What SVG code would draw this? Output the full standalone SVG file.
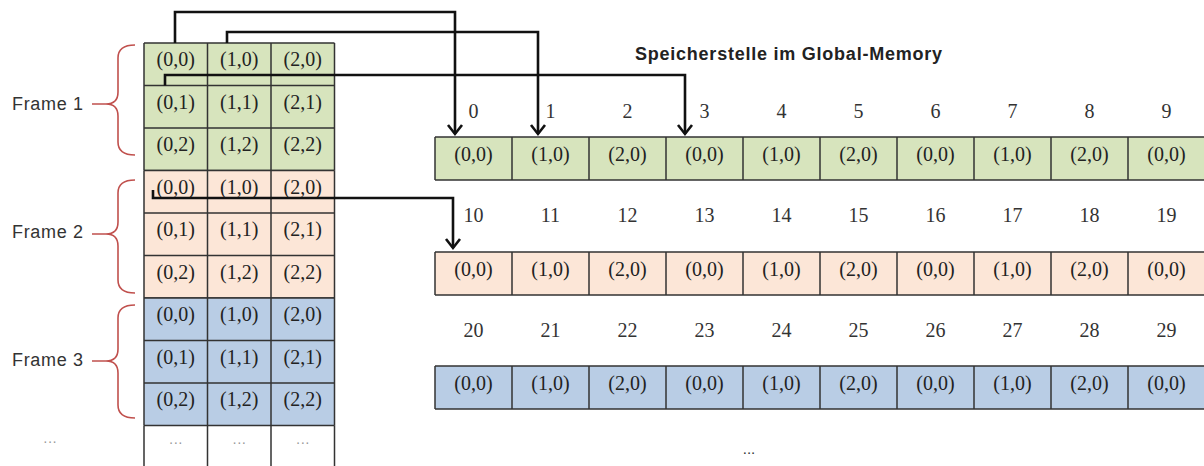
<svg xmlns="http://www.w3.org/2000/svg" width="1204" height="466" viewBox="0 0 1204 466">
<style>
.g{fill:#d7e4bd}
.p{fill:#fce6d7}
.b{fill:#b9cde5}
.w{fill:#ffffff}
.ln{stroke:#333333;stroke-width:1.5;fill:none}
.ct{font-family:"Liberation Serif",serif;font-size:20px;fill:#222;text-anchor:middle}
.num{font-family:"Liberation Serif",serif;font-size:20px;fill:#333;text-anchor:middle}
.fr{font-family:"Liberation Sans",sans-serif;font-size:18px;fill:#333}
.dots{font-family:"Liberation Sans",sans-serif;font-size:14px;fill:#999;text-anchor:middle}
.br{stroke:#c0504d;stroke-width:1.6;fill:none}
.ar{stroke:#111;stroke-width:2.6;fill:none;marker-end:url(#ah)}
</style>
<defs>
<marker id="ah" markerUnits="userSpaceOnUse" markerWidth="20" markerHeight="20" refX="10" refY="10" orient="auto">
<path d="M1,3 L10,10 L1,17" fill="none" stroke="#111" stroke-width="2.6"/>
</marker>
</defs>
<rect width="1204" height="466" fill="#ffffff"/>

<!-- Frame 1 -->
<g id="frame1">
<rect class="g" x="144" y="43" width="190.5" height="127.5"/>
<path class="ln" d="M144,43H334.5M144,85.5H334.5M144,128H334.5M144,170.5H334.5M144,43V170.5M207.5,43V170.5M271,43V170.5M334.5,43V170.5"/>
<text class="ct" x="175.75" y="66">(0,0)</text><text class="ct" x="239.25" y="66">(1,0)</text><text class="ct" x="302.75" y="66">(2,0)</text>
<text class="ct" x="175.75" y="108.5">(0,1)</text><text class="ct" x="239.25" y="108.5">(1,1)</text><text class="ct" x="302.75" y="108.5">(2,1)</text>
<text class="ct" x="175.75" y="151">(0,2)</text><text class="ct" x="239.25" y="151">(1,2)</text><text class="ct" x="302.75" y="151">(2,2)</text>
<path class="br" d="M135,45 Q118,45 118,58 L118,92 Q118,104 106,104 L92,104 M106,104 Q118,104 118,116 L118,142 Q118,155 135,155"/>
<text class="fr" x="12" y="110" textLength="71" lengthAdjust="spacing">Frame 1</text>
</g>

<!-- Frame 2 -->
<g id="frame2">
<rect class="p" x="144" y="170.5" width="190.5" height="127.5"/>
<path class="ln" d="M144,170.5H334.5M144,213H334.5M144,255.5H334.5M144,298H334.5M144,170.5V298M207.5,170.5V298M271,170.5V298M334.5,170.5V298"/>
<text class="ct" x="175.75" y="193.5">(0,0)</text><text class="ct" x="239.25" y="193.5">(1,0)</text><text class="ct" x="302.75" y="193.5">(2,0)</text>
<text class="ct" x="175.75" y="236">(0,1)</text><text class="ct" x="239.25" y="236">(1,1)</text><text class="ct" x="302.75" y="236">(2,1)</text>
<text class="ct" x="175.75" y="278.5">(0,2)</text><text class="ct" x="239.25" y="278.5">(1,2)</text><text class="ct" x="302.75" y="278.5">(2,2)</text>
<path class="br" d="M135,180 Q118,180 118,193 L118,222 Q118,234 106,234 L92,234 M106,234 Q118,234 118,246 L118,280 Q118,293 135,293"/>
<text class="fr" x="12" y="238" textLength="71" lengthAdjust="spacing">Frame 2</text>
</g>

<!-- Frame 3 -->
<g id="frame3">
<rect class="b" x="144" y="298" width="190.5" height="127.5"/>
<path class="ln" d="M144,298H334.5M144,340.5H334.5M144,383H334.5M144,425.5H334.5M144,298V425.5M207.5,298V425.5M271,298V425.5M334.5,298V425.5"/>
<text class="ct" x="175.75" y="321">(0,0)</text><text class="ct" x="239.25" y="321">(1,0)</text><text class="ct" x="302.75" y="321">(2,0)</text>
<text class="ct" x="175.75" y="363.5">(0,1)</text><text class="ct" x="239.25" y="363.5">(1,1)</text><text class="ct" x="302.75" y="363.5">(2,1)</text>
<text class="ct" x="175.75" y="406">(0,2)</text><text class="ct" x="239.25" y="406">(1,2)</text><text class="ct" x="302.75" y="406">(2,2)</text>
<path class="br" d="M135,305 Q118,305 118,318 L118,349 Q118,361 106,361 L92,361 M106,361 Q118,361 118,373 L118,405 Q118,418 135,418"/>
<text class="fr" x="12" y="366" textLength="71" lengthAdjust="spacing">Frame 3</text>
</g>

<!-- continuation row -->
<g id="more">
<path class="ln" d="M144,425.5V468M207.5,425.5V468M271,425.5V468M334.5,425.5V468"/>
<text class="dots" x="175.75" y="447">···</text><text class="dots" x="239.25" y="447">···</text><text class="dots" x="302.75" y="447">···</text>
<text class="dots" x="50" y="446">···</text>
</g>

<text x="635" y="60" font-family="Liberation Sans,sans-serif" font-weight="bold" font-size="18" fill="#222" textLength="307" lengthAdjust="spacing">Speicherstelle im Global-Memory</text>

<!-- Memory row 1 -->
<g id="mem1">
<rect class="g" x="435" y="137" width="770" height="43"/>
<path class="ln" d="M435,137H1205M435,180H1205M435,137V180M512,137V180M589,137V180M666,137V180M743,137V180M820,137V180M897,137V180M974,137V180M1051,137V180M1128,137V180"/>
<text class="num" x="473.5" y="118">0</text><text class="num" x="550.5" y="118">1</text><text class="num" x="627.5" y="118">2</text><text class="num" x="704.5" y="118">3</text><text class="num" x="781.5" y="118">4</text><text class="num" x="858.5" y="118">5</text><text class="num" x="935.5" y="118">6</text><text class="num" x="1012.5" y="118">7</text><text class="num" x="1089.5" y="118">8</text><text class="num" x="1166.5" y="118">9</text>
<text class="ct" x="473.5" y="161">(0,0)</text><text class="ct" x="550.5" y="161">(1,0)</text><text class="ct" x="627.5" y="161">(2,0)</text><text class="ct" x="704.5" y="161">(0,0)</text><text class="ct" x="781.5" y="161">(1,0)</text><text class="ct" x="858.5" y="161">(2,0)</text><text class="ct" x="935.5" y="161">(0,0)</text><text class="ct" x="1012.5" y="161">(1,0)</text><text class="ct" x="1089.5" y="161">(2,0)</text><text class="ct" x="1166.5" y="161">(0,0)</text>
</g>

<!-- Memory row 2 -->
<g id="mem2">
<rect class="p" x="435" y="252" width="770" height="43"/>
<path class="ln" d="M435,252H1205M435,295H1205M435,252V295M512,252V295M589,252V295M666,252V295M743,252V295M820,252V295M897,252V295M974,252V295M1051,252V295M1128,252V295"/>
<text class="num" x="473.5" y="222">10</text><text class="num" x="550.5" y="222">11</text><text class="num" x="627.5" y="222">12</text><text class="num" x="704.5" y="222">13</text><text class="num" x="781.5" y="222">14</text><text class="num" x="858.5" y="222">15</text><text class="num" x="935.5" y="222">16</text><text class="num" x="1012.5" y="222">17</text><text class="num" x="1089.5" y="222">18</text><text class="num" x="1166.5" y="222">19</text>
<text class="ct" x="473.5" y="276">(0,0)</text><text class="ct" x="550.5" y="276">(1,0)</text><text class="ct" x="627.5" y="276">(2,0)</text><text class="ct" x="704.5" y="276">(0,0)</text><text class="ct" x="781.5" y="276">(1,0)</text><text class="ct" x="858.5" y="276">(2,0)</text><text class="ct" x="935.5" y="276">(0,0)</text><text class="ct" x="1012.5" y="276">(1,0)</text><text class="ct" x="1089.5" y="276">(2,0)</text><text class="ct" x="1166.5" y="276">(0,0)</text>
</g>

<!-- Memory row 3 -->
<g id="mem3">
<rect class="b" x="435" y="366" width="770" height="43"/>
<path class="ln" d="M435,366H1205M435,409H1205M435,366V409M512,366V409M589,366V409M666,366V409M743,366V409M820,366V409M897,366V409M974,366V409M1051,366V409M1128,366V409"/>
<text class="num" x="473.5" y="337">20</text><text class="num" x="550.5" y="337">21</text><text class="num" x="627.5" y="337">22</text><text class="num" x="704.5" y="337">23</text><text class="num" x="781.5" y="337">24</text><text class="num" x="858.5" y="337">25</text><text class="num" x="935.5" y="337">26</text><text class="num" x="1012.5" y="337">27</text><text class="num" x="1089.5" y="337">28</text><text class="num" x="1166.5" y="337">29</text>
<text class="ct" x="473.5" y="390">(0,0)</text><text class="ct" x="550.5" y="390">(1,0)</text><text class="ct" x="627.5" y="390">(2,0)</text><text class="ct" x="704.5" y="390">(0,0)</text><text class="ct" x="781.5" y="390">(1,0)</text><text class="ct" x="858.5" y="390">(2,0)</text><text class="ct" x="935.5" y="390">(0,0)</text><text class="ct" x="1012.5" y="390">(1,0)</text><text class="ct" x="1089.5" y="390">(2,0)</text><text class="ct" x="1166.5" y="390">(0,0)</text>
</g>

<text x="749" y="454" font-family="Liberation Sans,sans-serif" font-size="15" fill="#333" text-anchor="middle">...</text>

<g id="connectors">
<path class="ar" d="M175,43 V12 H455 V134"/>
<path class="ar" d="M227,43 V32 H538 V134"/>
<path class="ar" d="M165,85.5 V75 H685 V134"/>
<path class="ar" d="M153,190 V198 H453 V248"/>
</g>
</svg>
